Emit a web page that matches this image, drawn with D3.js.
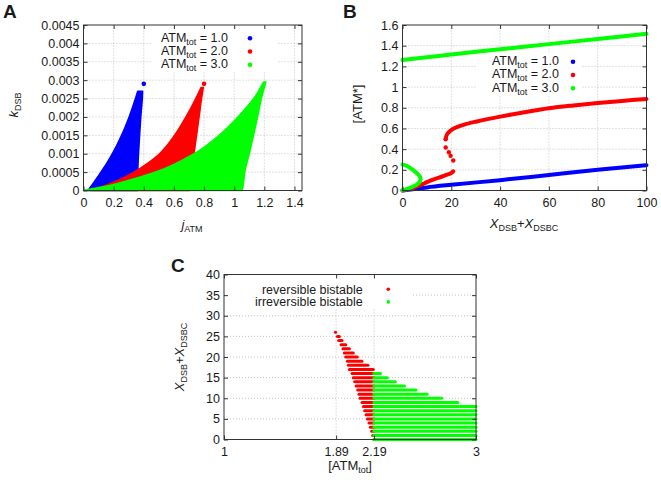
<!DOCTYPE html>
<html><head><meta charset="utf-8">
<script src="https://cdn.jsdelivr.net/npm/d3@7"></script>
<style>
body{margin:0;background:#fff}
text{font-family:"Liberation Sans",Arial,Helvetica,sans-serif;fill:#1a1a1a}
</style>
</head><body>
<svg id="c" width="661" height="480"></svg>
<script>
// ---------------- DATA ----------------
// Panel A: bistable regions in (j_ATM, k_DSB) plane, per ATM_tot
const seriesNames = ["1.0", "2.0", "3.0"];
const seriesColors = ["#0000ff", "#ff0000", "#00ff00"];

const kBlue   = [0, 0.0001, 0.00025, 0.0005, 0.00075, 0.001, 0.0015, 0.002, 0.0025, 0.0027];
const jBlueL  = [0.03, 0.048, 0.074, 0.116, 0.156, 0.192, 0.253, 0.303, 0.345, 0.36];
const jBlueR  = [0.36, 0.36, 0.36, 0.36, 0.362, 0.365, 0.372, 0.38, 0.39, 0.392];

const kRed    = [0, 0.0001, 0.00025, 0.0005, 0.00075, 0.001, 0.0015, 0.002, 0.0025, 0.0028];
const jRedL   = [0.05, 0.12, 0.215, 0.335, 0.43, 0.505, 0.605, 0.68, 0.745, 0.78];
const jRedR   = [0.70, 0.705, 0.71, 0.72, 0.727, 0.734, 0.75, 0.767, 0.783, 0.795];

const kGreen  = [0, 0.00005, 0.0001, 0.00025, 0.0005, 0.001, 0.0015, 0.002, 0.0025, 0.00295];
const jGreenL = [0, 0.065, 0.13, 0.28, 0.48, 0.735, 0.90, 1.025, 1.13, 1.195];
const jGreenR = [1.05, 1.055, 1.058, 1.063, 1.07, 1.10, 1.128, 1.155, 1.18, 1.21];

const tipJ = [0.40, 0.80];
const tipK = [0.0029, 0.0029];

const aXTicks = [0, 0.2, 0.4, 0.6, 0.8, 1.0, 1.2, 1.4];
const aXLabels = ["0", "0.2", "0.4", "0.6", "0.8", "1", "1.2", "1.4"];
const aYTicks = [0, 0.0005, 0.001, 0.0015, 0.002, 0.0025, 0.003, 0.0035, 0.004, 0.0045];
const aYLabels = ["0", "0.0005", "0.001", "0.0015", "0.002", "0.0025", "0.003", "0.0035", "0.004", "0.0045"];

// Panel B: [ATM*] vs X_DSB+X_DSBC
const bBlueX = [0, 5, 10, 20, 40, 60, 80, 100];
const bBlueY = [0, 0.015, 0.03, 0.055, 0.10, 0.15, 0.20, 0.245];
const bRedLowX = [0, 3, 6, 9, 12, 15, 18, 20, 20.8];
const bRedLowY = [0, 0.015, 0.04, 0.07, 0.10, 0.125, 0.15, 0.17, 0.185];
const bRedMidX = [20.8, 19.7, 19.0, 17.7, 17.7];
const bRedMidY = [0.29, 0.335, 0.37, 0.415, 0.496];
const bRedUpX = [17.7, 18.2, 19.5, 21, 25, 30, 40, 50, 60, 70, 80, 90, 100];
const bRedUpY = [0.50, 0.54, 0.575, 0.60, 0.635, 0.665, 0.714, 0.757, 0.795, 0.822, 0.845, 0.866, 0.885];
const bGreenUpX = [0, 20, 40, 60, 80, 100];
const bGreenUpY = [1.262, 1.315, 1.365, 1.415, 1.465, 1.515];
const bGreenFoldX = [0, 1, 2, 3, 4, 5, 6, 7, 7.4, 7.3, 7, 6, 5, 4, 3, 2, 1, 0];
const bGreenFoldY = [0.25, 0.245, 0.235, 0.22, 0.205, 0.185, 0.165, 0.14, 0.115, 0.095, 0.08, 0.06, 0.045, 0.035, 0.025, 0.015, 0.007, 0];

const bXTicks = [0, 20, 40, 60, 80, 100];
const bXLabels = ["0", "20", "40", "60", "80", "100"];
const bYTicks = [0, 0.2, 0.4, 0.6, 0.8, 1.0, 1.2, 1.4, 1.6];
const bYLabels = ["0", "0.2", "0.4", "0.6", "0.8", "1", "1.2", "1.4", "1.6"];

// Panel C: bistable rows in (ATM_tot, X) plane
const cRedRows  = [0,1,2,3,4,5,6,7,8,9,10,11,12,13,14,15,16,17,18,19,20,21,22,23,24,25,26];
const cRedStart = [2.19,2.18,2.172,2.161,2.151,2.138,2.127,2.116,2.106,2.095,2.079,2.071,2.061,2.048,2.037,2.026,2.016,1.995,1.987,1.979,1.966,1.955,1.944,1.929,1.910,1.900,1.884];
const cRedEnd   = [2.19,2.19,2.19,2.19,2.19,2.19,2.19,2.19,2.19,2.19,2.19,2.19,2.19,2.19,2.19,2.19,2.19,2.185,2.143,2.095,2.058,2.026,1.995,1.966,1.937,1.915,1.886];
const cGreenRows  = [0,1,2,3,4,5,6,7,8,9,10,11,12,13,14,15,16];
const cGreenStart = [2.19,2.19,2.19,2.19,2.19,2.19,2.19,2.19,2.19,2.19,2.19,2.19,2.19,2.19,2.19,2.19,2.19];
const cGreenEnd   = [3.0,3.0,3.0,3.0,3.0,3.0,3.0,3.0,3.0,2.855,2.727,2.612,2.524,2.433,2.36,2.296,2.242];

const cXTicks = [1, 1.89, 2.19, 3];
const cXLabels = ["1", "1.89", "2.19", "3"];
const cYTicks = [0, 5, 10, 15, 20, 25, 30, 35, 40];
const cYLabels = ["0", "5", "10", "15", "20", "25", "30", "35", "40"];
const cLegend = ["reversible bistable", "irreversible bistable"];
const cColors = ["#ff0000", "#00ff00"];

// ---------------- DRAWING ----------------
const svg = d3.select("#c");
const FS = 12.5, LFS = 12.5, SUB = 9;

function grid(g, x, y, gx, gy) {
  const [xa, xb] = x.range(), [ya, yb] = y.range();
  g.append("g").selectAll("line").data(gx).join("line")
    .attr("x1", d => x(d)).attr("x2", d => x(d)).attr("y1", ya).attr("y2", yb)
    .attr("stroke", "#b4b4b4").attr("stroke-width", 0.8).attr("stroke-dasharray", "1,2");
  g.append("g").selectAll("line").data(gy).join("line")
    .attr("y1", d => y(d)).attr("y2", d => y(d)).attr("x1", xa).attr("x2", xb)
    .attr("stroke", "#b4b4b4").attr("stroke-width", 0.8).attr("stroke-dasharray", "1,2");
}

function axes(g, x, y, xt, xl, yt, yl) {
  const [xa, xb] = x.range(), [ya, yb] = y.range();
  const style = sel => {
    sel.select(".domain").remove();
    sel.selectAll(".tick line").attr("stroke", "#333").attr("stroke-width", 1);
    sel.selectAll("text").attr("font-size", FS).attr("font-family", null).attr("fill", "#1a1a1a");
    sel.attr("font-family", null).attr("font-size", null);
  };
  g.append("g").attr("transform", `translate(0,${ya})`)
    .call(d3.axisBottom(x).tickValues(xt).tickFormat((d, i) => xl[i]).tickSize(-4).tickPadding(7.5)).call(style);
  g.append("g").attr("transform", `translate(0,${yb})`)
    .call(d3.axisTop(x).tickValues(xt).tickFormat("").tickSize(-4)).call(style);
  g.append("g").attr("transform", `translate(${xa},0)`)
    .call(d3.axisLeft(y).tickValues(yt).tickFormat((d, i) => yl[i]).tickSize(-4).tickPadding(4)).call(style);
  g.append("g").attr("transform", `translate(${xb},0)`)
    .call(d3.axisRight(y).tickValues(yt).tickFormat("").tickSize(-4)).call(style);
  g.append("rect").attr("x", xa).attr("y", yb).attr("width", xb - xa).attr("height", ya - yb)
    .attr("fill", "none").attr("stroke", "#333").attr("stroke-width", 1);
}

function subText(g, x, y, parts, anchor, transform, fs) {
  const t = g.append("text").attr("x", x).attr("y", y).attr("font-size", fs || LFS)
    .attr("text-anchor", anchor || "start");
  if (transform) t.attr("transform", transform);
  let shifted = false;
  parts.forEach(([s, k]) => {
    const ts = t.append("tspan").text(s);
    if (k === "i") ts.attr("font-style", "italic");
    if (k === "s") {
      ts.attr("font-size", SUB);
      if (!shifted) { ts.attr("dy", 3); shifted = true; }
    } else if (shifted) { ts.attr("dy", -3); shifted = false; }
  });
  return t;
}

function letter(x, y, s) {
  svg.append("text").attr("x", x).attr("y", y).attr("font-size", 19).attr("font-weight", "bold").text(s);
}

// ===== Panel A =====
{
  const g = svg.append("g");
  const x = d3.scaleLinear().domain([0, 1.45]).range([83.5, 302]);
  const y = d3.scaleLinear().domain([0, 0.0045]).range([190.5, 25]);
  grid(g, x, y, aXTicks.slice(1), aYTicks.slice(1, -1));
  g.append("rect").attr("x", 152).attr("y", 28).attr("width", 126).attr("height", 44).attr("fill", "#fff");

  const area = d3.area().y(d => y(d.k)).x0(d => x(d.l)).x1(d => x(d.r)).curve(d3.curveMonotoneY);
  const regions = [
    kBlue.map((k, i) => ({k, l: jBlueL[i], r: jBlueR[i]})),
    kRed.map((k, i) => ({k, l: jRedL[i], r: jRedR[i]})),
    kGreen.map((k, i) => ({k, l: jGreenL[i], r: jGreenR[i]}))
  ];
  regions.forEach((reg, i) => {
    g.append("path").attr("d", area(reg)).attr("fill", seriesColors[i])
      .attr("stroke", seriesColors[i]).attr("stroke-width", 1.6).attr("stroke-linejoin", "round");
  });
  tipJ.forEach((j, i) => {
    g.append("circle").attr("cx", x(j)).attr("cy", y(tipK[i])).attr("r", 2.3).attr("fill", seriesColors[i]);
  });
  axes(g, x, y, aXTicks, aXLabels, aYTicks, aYLabels);

  seriesNames.forEach((n, i) => {
    subText(g, 228, 41.5 + i * 13.4, [["ATM", "n"], ["tot", "s"], [" = " + n, "n"]], "end");
    g.append("circle").attr("cx", 250).attr("cy", 38.3 + i * 13.2).attr("r", 2.3).attr("fill", seriesColors[i]);
  });
  subText(g, 192, 229, [["j", "i"], ["ATM", "s"]], "middle", null, 13);
  subText(g, 0, 0, [["k", "i"], ["DSB", "s"]], "middle", "translate(18,105) rotate(-90)", 13);
  letter(3, 18, "A");
}

// ===== Panel B =====
{
  const g = svg.append("g");
  const x = d3.scaleLinear().domain([0, 100]).range([402.5, 646.5]);
  const y = d3.scaleLinear().domain([0, 1.6]).range([190.5, 25]);
  grid(g, x, y, bXTicks.slice(1, -1), bYTicks.slice(1, -1));
  g.append("rect").attr("x", 477).attr("y", 52).attr("width", 104).attr("height", 44).attr("fill", "#fff");

  const line = d3.line().x(d => x(d[0])).y(d => y(d[1])).curve(d3.curveMonotoneX);
  const lineC = d3.line().x(d => x(d[0])).y(d => y(d[1])).curve(d3.curveCatmullRom);
  const draw = (gen, xs, ys, c) => g.append("path").attr("d", gen(xs.map((v, i) => [v, ys[i]])))
    .attr("fill", "none").attr("stroke", c).attr("stroke-width", 4).attr("stroke-linecap", "round").attr("stroke-linejoin", "round");

  draw(line, bBlueX, bBlueY, seriesColors[0]);
  draw(line, bRedLowX, bRedLowY, seriesColors[1]);
  draw(lineC, bRedUpX, bRedUpY, seriesColors[1]);
  bRedMidX.forEach((v, i) => g.append("circle").attr("cx", x(v)).attr("cy", y(bRedMidY[i])).attr("r", 2.2).attr("fill", seriesColors[1]));
  draw(line, bGreenUpX, bGreenUpY, seriesColors[2]);
  draw(lineC, bGreenFoldX, bGreenFoldY, seriesColors[2]);

  axes(g, x, y, bXTicks, bXLabels, bYTicks, bYLabels);

  seriesNames.forEach((n, i) => {
    subText(g, 559, 65 + i * 13.3, [["ATM", "n"], ["tot", "s"], [" = " + n, "n"]], "end");
    g.append("circle").attr("cx", 573).attr("cy", 61.7 + i * 13.3).attr("r", 2.3).attr("fill", seriesColors[i]);
  });
  subText(g, 524, 228, [["X", "i"], ["DSB", "s"], ["+", "n"], ["X", "i"], ["DSBC", "s"]], "middle", null, 13);
  g.append("text").attr("transform", "translate(362,104) rotate(-90)").attr("text-anchor", "middle")
    .attr("font-size", 13).text("[ATM*]");
  letter(343, 18, "B");
}

// ===== Panel C =====
{
  const g = svg.append("g");
  const x = d3.scaleLinear().domain([1, 3]).range([224, 476]);
  const y = d3.scaleLinear().domain([0, 40]).range([439.5, 274.5]);
  grid(g, x, y, [1.89, 2.19], cYTicks.slice(1, -1));
  g.append("rect").attr("x", 225).attr("y", 276).attr("width", 186).attr("height", 33).attr("fill", "#fff");

  const row = (r, a, b, c) => g.append("line")
    .attr("x1", x(a)).attr("x2", x(b) + 0.01).attr("y1", y(r)).attr("y2", y(r))
    .attr("stroke", c).attr("stroke-width", 3).attr("stroke-linecap", "round");
  cRedRows.forEach((r, i) => row(r, cRedStart[i], cRedEnd[i], cColors[0]));
  cGreenRows.forEach((r, i) => row(r, cGreenStart[i], cGreenEnd[i], cColors[1]));

  axes(g, x, y, cXTicks, cXLabels, cYTicks, cYLabels);

  cLegend.forEach((s, i) => {
    g.append("text").attr("x", 362.7).attr("y", 293.5 + i * 12.6).attr("text-anchor", "end")
      .attr("font-size", LFS).text(s);
    g.append("circle").attr("cx", 388.3).attr("cy", 289.3 + i * 12.6).attr("r", 1.8).attr("fill", cColors[i]);
  });
  subText(g, 350, 470, [["[ATM", "n"], ["tot", "s"], ["]", "n"]], "middle", null, 13);
  subText(g, 0, 0, [["X", "i"], ["DSB", "s"], ["+", "n"], ["X", "i"], ["DSBC", "s"]], "middle", "translate(184,357) rotate(-90)", 13);
  letter(171, 272, "C");
}
</script>
</body></html>
